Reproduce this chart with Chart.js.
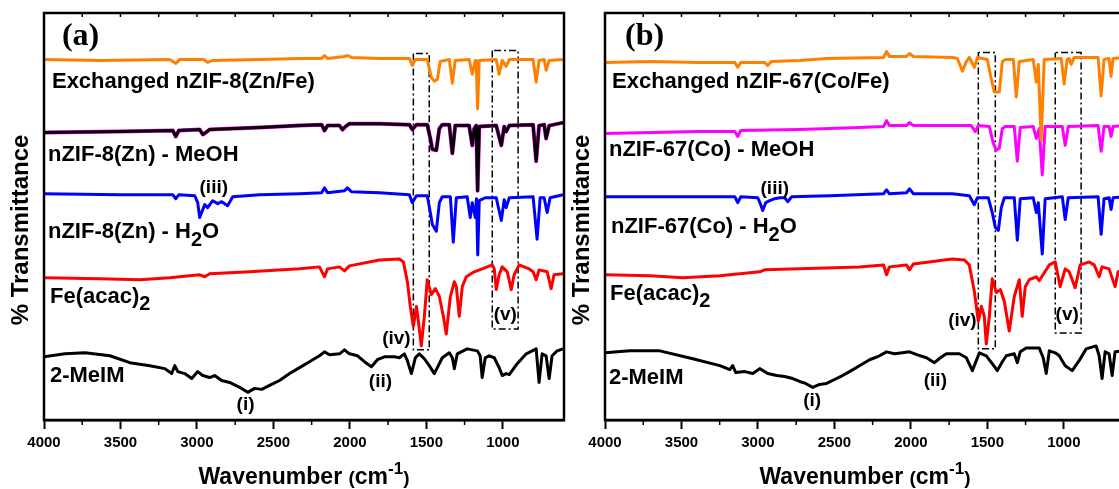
<!DOCTYPE html>
<html>
<head>
<meta charset="utf-8">
<script src="https://cdn.jsdelivr.net/npm/chart.js@4.4.0/dist/chart.umd.min.js"></script>
<style>
  html, body { margin: 0; padding: 0; background: #fff; overflow: hidden; width: 1119px; height: 489px; position: relative; }
  canvas { position: absolute; top: 0; }
  #panelA { left: 0; }
  #panelB { left: 561px; }
</style>
</head>
<body>
<canvas id="panelA" width="575" height="489"></canvas>
<canvas id="panelB" width="575" height="489"></canvas>
<script>
// FTIR spectra as [wavenumber (cm-1), stacked transmittance] pairs
const majorTicks = [4000, 3500, 3000, 2500, 2000, 1500, 1000];

// (a) ZIF-8 series
const exchangedZn = [[4000,365],[3634,364],[3178,365],[3138,361],[3112,365],[2956,365],[2930,362],[2897,364],[2590,365],[2329,366],[2185,366],[2166,369],[2146,366],[2035,368],[2016,369],[1990,367],[1807,366],[1611,366],[1592,359],[1572,365],[1494,365],[1468,347],[1448,343],[1428,345],[1409,363],[1350,365],[1330,341],[1311,364],[1220,365],[1200,350],[1180,364],[1174,364],[1165,315],[1154,364],[1043,365],[1024,350],[1004,364],[978,358],[958,365],[802,365],[782,342],[763,364],[730,365],[717,354],[697,364],[606,365]];
const meohZn = [[4000,291],[3504,292],[3158,293],[3138,287],[3119,293],[2982,294],[2962,289],[2943,291],[2917,294],[2590,296],[2329,298],[2185,299],[2166,293],[2146,298],[2068,298],[2048,294],[2029,297],[2003,300],[1807,300],[1611,299],[1592,294],[1565,299],[1494,299],[1474,285],[1461,274],[1435,273],[1415,295],[1396,299],[1350,299],[1330,270],[1311,298],[1220,298],[1200,278],[1187,295],[1174,298],[1165,232],[1154,297],[1043,298],[1010,278],[991,297],[978,292],[958,298],[802,299],[782,262],[763,298],[730,299],[717,285],[697,298],[606,301]];
const waterZn = [[4000,229],[3504,228],[3158,228],[3138,224],[3119,228],[3014,227],[2995,220],[2982,205],[2969,210],[2949,218],[2930,215],[2897,222],[2864,219],[2838,221],[2799,217],[2766,226],[2590,228],[2329,229],[2185,230],[2166,235],[2146,230],[2035,232],[2016,235],[1990,231],[1807,230],[1611,228],[1592,220],[1565,227],[1494,227],[1474,210],[1461,198],[1435,191],[1415,220],[1396,226],[1343,226],[1324,180],[1304,225],[1233,226],[1213,205],[1200,220],[1180,205],[1172,224],[1164,167],[1154,222],[1115,225],[1043,225],[1010,202],[991,223],[978,215],[958,225],[802,226],[776,183],[756,225],[730,225],[710,210],[691,225],[606,228]];
const feAcacA = [[4000,144],[3634,143],[3373,142],[3178,144],[2982,147],[2949,145],[2917,148],[2655,150],[2329,153],[2199,155],[2166,145],[2146,153],[2068,155],[2035,151],[2003,156],[1807,162],[1676,163],[1650,160],[1624,140],[1605,115],[1585,95],[1565,115],[1552,100],[1533,75],[1513,105],[1494,142],[1468,127],[1441,133],[1415,125],[1389,105],[1370,87],[1343,125],[1317,140],[1304,135],[1285,105],[1265,135],[1239,145],[1187,150],[1135,153],[1069,157],[1056,153],[1043,132],[1024,147],[1004,155],[971,150],[945,132],[926,147],[893,157],[828,153],[802,150],[782,142],[763,152],[710,150],[684,133],[665,147],[606,148]];
const meimA = [[4000,64],[3863,67],[3732,68],[3569,65],[3439,58],[3308,55],[3210,52],[3165,47],[3145,55],[3125,49],[3080,47],[3034,42],[2995,49],[2962,45],[2917,43],[2884,45],[2838,40],[2786,38],[2747,35],[2708,32],[2668,28],[2623,32],[2577,31],[2525,35],[2460,40],[2394,47],[2329,53],[2264,59],[2199,65],[2166,69],[2133,66],[2068,67],[2035,71],[2003,67],[1950,65],[1905,59],[1859,54],[1820,61],[1774,64],[1709,64],[1676,63],[1644,67],[1624,60],[1598,47],[1572,63],[1546,67],[1513,62],[1481,55],[1448,47],[1415,57],[1396,63],[1350,68],[1330,63],[1317,52],[1298,67],[1233,72],[1167,70],[1148,65],[1135,43],[1115,63],[1089,65],[1056,63],[1024,53],[1004,45],[978,47],[958,46],[906,57],[847,67],[782,72],[763,38],[743,67],[717,65],[697,42],[678,65],[645,70],[606,72]];

// (b) ZIF-67 series
const exchangedCo = [[4000,362],[3706,363],[3380,362],[3151,362],[3132,357],[3112,362],[2956,362],[2936,359],[2910,363],[2727,364],[2551,366],[2179,367],[2159,373],[2140,368],[2029,368],[2009,371],[1983,368],[1729,367],[1696,366],[1663,353],[1637,363],[1618,367],[1585,357],[1565,367],[1500,365],[1474,345],[1455,332],[1422,332],[1402,363],[1383,365],[1330,365],[1311,327],[1291,363],[1200,365],[1180,342],[1167,360],[1148,283],[1128,365],[1017,366],[998,340],[978,365],[965,366],[952,360],[932,367],[776,367],[756,328],[737,365],[704,366],[691,348],[678,366],[606,367]];
const meohCo = [[4000,290],[3380,292],[3151,292],[3132,287],[3112,293],[2727,294],[2336,296],[2179,297],[2159,303],[2140,298],[2029,298],[2009,301],[1983,298],[1729,298],[1605,298],[1579,292],[1559,298],[1487,297],[1461,280],[1441,273],[1422,275],[1402,295],[1383,297],[1324,297],[1304,262],[1285,296],[1200,297],[1180,285],[1161,295],[1141,248],[1122,297],[1010,297],[991,278],[971,297],[776,298],[756,272],[737,297],[704,297],[691,287],[678,297],[606,298]];
const waterCo = [[4000,226],[3380,226],[3151,226],[3132,220],[3112,226],[3001,225],[2982,218],[2969,212],[2949,220],[2923,222],[2890,224],[2858,225],[2825,225],[2806,221],[2779,226],[2531,227],[2179,229],[2159,233],[2140,229],[2029,230],[2009,234],[1983,229],[1729,229],[1618,227],[1585,218],[1565,225],[1494,225],[1468,210],[1448,195],[1428,192],[1409,215],[1389,225],[1324,225],[1304,182],[1285,224],[1200,225],[1180,210],[1167,220],[1141,168],[1122,224],[1010,226],[991,203],[971,225],[776,226],[756,188],[737,224],[704,225],[691,213],[678,225],[606,226]];
const feAcacB = [[4000,147],[3706,146],[3491,144],[3249,146],[2988,150],[2956,152],[2727,153],[2336,155],[2179,157],[2159,147],[2140,155],[2029,157],[2009,152],[1983,158],[1729,163],[1650,162],[1618,157],[1585,130],[1559,100],[1539,115],[1520,105],[1507,77],[1487,105],[1468,143],[1441,129],[1415,132],[1389,120],[1357,90],[1324,125],[1291,142],[1272,105],[1252,135],[1226,142],[1180,145],[1161,141],[1095,157],[1056,160],[1024,135],[991,153],[965,150],[926,134],[893,157],[834,160],[802,157],[769,145],[750,155],[704,153],[665,135],[645,150],[606,153]];
const meimB = [[4000,68],[3837,70],[3641,70],[3426,62],[3249,55],[3184,51],[3165,55],[3145,48],[3086,49],[3034,47],[2988,52],[2936,47],[2877,45],[2825,44],[2773,42],[2727,39],[2688,37],[2642,33],[2597,36],[2551,37],[2499,41],[2447,45],[2401,49],[2336,55],[2270,61],[2205,65],[2159,69],[2107,67],[2055,68],[2009,69],[1957,66],[1898,63],[1846,58],[1807,63],[1768,67],[1683,67],[1637,63],[1598,50],[1552,68],[1507,65],[1468,57],[1435,50],[1402,59],[1376,65],[1324,67],[1304,58],[1285,69],[1246,73],[1161,73],[1135,63],[1115,47],[1095,70],[1056,68],[1030,65],[991,55],[945,50],[900,60],[854,72],[789,75],[769,65],[750,42],[730,69],[704,67],[684,45],[665,69],[606,70]];

// dash-dot boxes around regions (iv) and (v)
const boxesA = [{ from: 1585, to: 1481, top: 371, bottom: 71 }, { from: 1069, to: 900, top: 374, bottom: 92 }];
const boxesB = [{ from: 1559, to: 1448, top: 372, bottom: 72 }, { from: 1056, to: 887, top: 372, bottom: 88 }];

// text placed at [wavenumber, level]
const notesA = [
  { kind: 'panel', w: 3883, v: 388, parts: [['(a)']] },
  { kind: 'name', w: 3948, v: 342, parts: [['Exchanged nZIF-8(Zn/Fe)']] },
  { kind: 'name', w: 3974, v: 268, parts: [['nZIF-8(Zn) - MeOH']] },
  { kind: 'name', w: 3974, v: 190, parts: [['nZIF-8(Zn) - H'], ['2', true], ['O']] },
  { kind: 'name', w: 3961, v: 125, parts: [['Fe(acac)'], ['2', true]] },
  { kind: 'name', w: 3961, v: 45, parts: [['2-MeIM']] },
  { kind: 'mark', w: 2890, v: 235, parts: [['(iii)']] },
  { kind: 'mark', w: 2682, v: 15, parts: [['(i)']] },
  { kind: 'mark', w: 1800, v: 39, parts: [['(ii)']] },
  { kind: 'mark', w: 1696, v: 82, parts: [['(iv)']] },
  { kind: 'mark', w: 984, v: 107, parts: [['(v)']] }
];
const notesB = [
  { kind: 'panel', w: 3869, v: 388, parts: [['(b)']] },
  { kind: 'name', w: 3954, v: 342, parts: [['Exchanged nZIF-67(Co/Fe)']] },
  { kind: 'name', w: 3974, v: 273, parts: [['nZIF-67(Co) - MeOH']] },
  { kind: 'name', w: 3961, v: 195, parts: [['nZIF-67(Co) - H'], ['2', true], ['O']] },
  { kind: 'name', w: 3967, v: 128, parts: [['Fe(acac)'], ['2', true]] },
  { kind: 'name', w: 3974, v: 43, parts: [['2-MeIM']] },
  { kind: 'mark', w: 2890, v: 234, parts: [['(iii)']] },
  { kind: 'mark', w: 2645, v: 19, parts: [['(i)']] },
  { kind: 'mark', w: 1840, v: 40, parts: [['(ii)']] },
  { kind: 'mark', w: 1663, v: 100, parts: [['(iv)']] },
  { kind: 'mark', w: 978, v: 107, parts: [['(v)']] }
];

const SANS = '"Liberation Sans", Arial, sans-serif';
const SERIF = '"Liberation Serif", "Times New Roman", serif';

const pts = arr => arr.map(([x, y]) => ({ x, y }));

function trace(data, color, width) {
  return { data: pts(data), borderColor: color, borderWidth: width, pointRadius: 0, tension: 0, fill: false, borderJoinStyle: 'round' };
}

function box(b) {
  const corners = [[b.from, b.top], [b.from, b.bottom], [b.to, b.bottom], [b.to, b.top], [b.from, b.top]];
  return { data: pts(corners), borderColor: '#000', borderWidth: 1.5, borderDash: [7, 3, 2, 3], pointRadius: 0, tension: 0, fill: false };
}

function drawParts(ctx, parts, x, y, size, family, center) {
  const fontFor = sub => 'bold ' + (sub ? size - 2 : size) + 'px ' + family;
  let total = 0;
  parts.forEach(([t, sub]) => { ctx.font = fontFor(sub); total += ctx.measureText(t).width; });
  let cx = center ? x - total / 2 : x;
  parts.forEach(([t, sub]) => {
    ctx.font = fontFor(sub);
    ctx.fillText(t, cx, sub ? y + size * 0.36 : y);
    cx += ctx.measureText(t).width;
  });
}

// frame, extra ticks, axis titles and curve labels
const decorations = {
  id: 'decorations',
  afterDraw(chart, args, opts) {
    const { ctx, chartArea: a, scales: { x, y } } = chart;
    ctx.save();
    ctx.strokeStyle = '#000';
    ctx.lineWidth = 1.5;
    x.ticks.forEach(t => {
      const px = x.getPixelForValue(t.value);
      ctx.beginPath();
      if (!majorTicks.includes(t.value)) {
        ctx.moveTo(px, a.bottom);
        ctx.lineTo(px, a.bottom + 5);
      }
      ctx.moveTo(px, a.top);
      ctx.lineTo(px, a.top + 4);
      ctx.stroke();
    });
    ctx.lineWidth = 2.5;
    ctx.strokeRect(a.left, a.top, a.right - a.left, a.bottom - a.top);

    ctx.fillStyle = '#000';
    ctx.textBaseline = 'middle';
    opts.items.forEach(n => {
      const px = x.getPixelForValue(n.w);
      const py = y.getPixelForValue(n.v);
      if (n.kind === 'panel') drawParts(ctx, n.parts, px, py, 32, SERIF, false);
      else if (n.kind === 'name') drawParts(ctx, n.parts, px, py, 22, SANS, false);
      else drawParts(ctx, n.parts, px, py, 19, SANS, true);
    });

    // x title with superscript
    ctx.textBaseline = 'alphabetic';
    const pieces = [['Wavenumber ', 23, 0], ['(', 19, 0], ['cm', 23, 0], ['-1', 17, -10], [')', 19, 0]];
    let w = 0;
    pieces.forEach(([t, s]) => { ctx.font = 'bold ' + s + 'px ' + SANS; w += ctx.measureText(t).width; });
    let cx = (a.left + a.right) / 2 - w / 2;
    pieces.forEach(([t, s, dy]) => {
      ctx.font = 'bold ' + s + 'px ' + SANS;
      ctx.fillText(t, cx, 484 + dy);
      cx += ctx.measureText(t).width;
    });

    // y title
    ctx.translate(21, 230);
    ctx.rotate(-Math.PI / 2);
    ctx.textAlign = 'center';
    ctx.textBaseline = 'middle';
    ctx.font = 'bold 24px ' + SANS;
    ctx.fillText('% Transmittance', 0, 0);
    ctx.restore();
  }
};

function makePanel(canvasId, traces, boxes, notes) {
  return new Chart(document.getElementById(canvasId), {
    type: 'line',
    data: { datasets: traces.concat(boxes.map(box)) },
    options: {
      responsive: false,
      animation: false,
      devicePixelRatio: 1,
      layout: { padding: { left: 44, right: 11, top: 13, bottom: 32 } },
      plugins: { legend: { display: false }, tooltip: { enabled: false }, decorations: { items: notes } },
      scales: {
        x: {
          type: 'linear', reverse: true, min: 600, max: 4000,
          afterBuildTicks: s => { s.ticks = s.ticks.filter(t => t.value % 250 === 0); },
          ticks: {
            stepSize: 250, autoSkip: false, maxRotation: 0, padding: 5, color: '#000',
            font: { family: SANS, size: 15, weight: 'bold' },
            callback: v => majorTicks.includes(v) ? String(v) : ''
          },
          grid: {
            drawOnChartArea: false, tickLength: 9, tickWidth: 2,
            tickColor: c => (c.tick && majorTicks.includes(c.tick.value)) ? '#000' : 'rgba(0,0,0,0)'
          },
          border: { color: '#000', width: 2.5 }
        },
        y: { display: false, min: 0, max: 412 }
      }
    },
    plugins: [decorations]
  });
}

makePanel('panelA', [
  trace(exchangedZn, '#ff8000', 3),
  trace(meohZn, '#000000', 3),
  trace(meohZn, '#ff00ff', 4),
  trace(waterZn, '#0000ff', 3),
  trace(feAcacA, '#ff0000', 3),
  trace(meimA, '#000000', 3)
], boxesA, notesA);

makePanel('panelB', [
  trace(exchangedCo, '#ff8000', 3),
  trace(meohCo, '#ff00ff', 3),
  trace(waterCo, '#0000ff', 3),
  trace(feAcacB, '#ff0000', 3),
  trace(meimB, '#000000', 3)
], boxesB, notesB);
</script>
</body>
</html>
